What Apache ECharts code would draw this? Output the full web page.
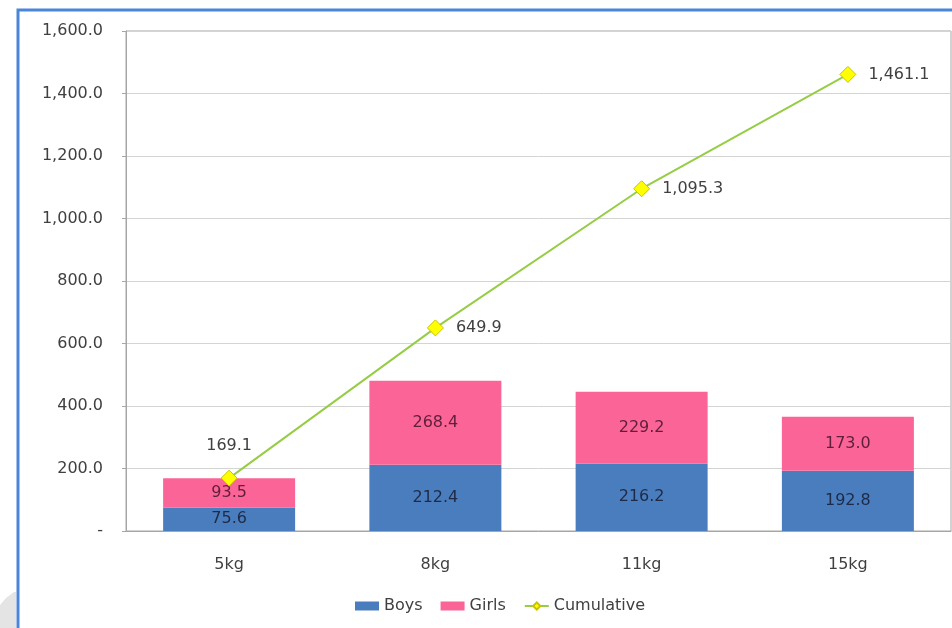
<!DOCTYPE html>
<html>
<head>
<meta charset="utf-8">
<script src="https://cdn.jsdelivr.net/npm/echarts@6/dist/echarts.min.js"></script>
<style>
html,body{margin:0;padding:0;background:#fff;}
#chart{width:952px;height:628px;}
</style>
</head>
<body>
<div id="chart"></div>
<script>
var categories = ['5kg', '8kg', '11kg', '15kg'];
var boys = [75.6, 212.4, 216.2, 192.8];
var girls = [93.5, 268.4, 229.2, 173.0];
var cumulative = [169.1, 649.9, 1095.3, 1461.1];
var yTicks = [0, 200, 400, 600, 800, 1000, 1200, 1400, 1600];

function fmt(v) {
  return Number(v).toLocaleString('en-US', {minimumFractionDigits: 1, maximumFractionDigits: 1});
}

var FONT = 'DejaVu Sans';
var chart = echarts.init(document.getElementById('chart'), null, {renderer: 'canvas'});

var cumData = cumulative.map(function (v, i) {
  return {
    value: v,
    label: {position: i === 0 ? 'top' : 'right', distance: i === 0 ? 16 : 12}
  };
});

chart.setOption({
  animation: false,
  backgroundColor: '#ffffff',
  textStyle: {fontFamily: FONT},
  grid: {left: 126, right: 1, top: 31, bottom: 97, show: true, borderColor: '#a6a6a6', borderWidth: 1, backgroundColor: 'transparent'},
  legend: {
    bottom: 9,
    left: 350,
    itemWidth: 24,
    itemHeight: 9,
    itemGap: 18,
    textStyle: {fontFamily: FONT, fontSize: 16, color: '#404040'},
    data: [
      {name: 'Boys', icon: 'rect'},
      {name: 'Girls', icon: 'rect'},
      {name: 'Cumulative'}
    ]
  },
  xAxis: {
    type: 'category',
    data: categories,
    axisLine: {lineStyle: {color: '#a6a6a6'}},
    axisTick: {show: false},
    axisLabel: {fontFamily: FONT, fontSize: 16, color: '#404040', margin: 26}
  },
  yAxis: {
    type: 'value',
    min: yTicks[0],
    max: yTicks[yTicks.length - 1],
    interval: 200,
    axisLine: {show: true, lineStyle: {color: '#a6a6a6'}},
    axisTick: {show: true, length: 4, lineStyle: {color: '#a6a6a6'}},
    splitLine: {lineStyle: {color: '#d4d4d4'}},
    axisLabel: {
      fontFamily: FONT, fontSize: 16, color: '#404040', margin: 23,
      formatter: function (v) { return v === 0 ? '-' : fmt(v); }
    }
  },
  graphic: [
    {type: 'rect', z: 100, silent: true, shape: {x: 18, y: 10, width: 1000, height: 700},
      style: {fill: 'none', stroke: '#4a86d8', lineWidth: 3}},
    {type: 'polygon', z: 90, silent: true,
      shape: {points: [[0, 628], [0, 605], [6, 598], [14, 592], [16, 592], [16, 628]]},
      style: {fill: '#e4e4e4'}}
  ],
  series: [
    {
      name: 'Boys', type: 'bar', stack: 'total', data: boys, barWidth: 132,
      itemStyle: {color: '#4a7dbd'},
      label: {show: true, position: 'inside', fontFamily: FONT, fontSize: 16, color: '#1e2b48', formatter: function (p) { return fmt(p.value); }}
    },
    {
      name: 'Girls', type: 'bar', stack: 'total', data: girls, barWidth: 132,
      itemStyle: {color: '#fb6496'},
      label: {show: true, position: 'inside', fontFamily: FONT, fontSize: 16, color: '#5e1f3a', formatter: function (p) { return fmt(p.value); }}
    },
    {
      name: 'Cumulative', type: 'line', data: cumData, z: 5,
      symbol: 'diamond', symbolSize: 16,
      lineStyle: {color: '#96cd45', width: 2},
      itemStyle: {color: '#ffff00', borderColor: '#c9c200', borderWidth: 1},
      label: {show: true, fontFamily: FONT, fontSize: 16, color: '#404040', formatter: function (p) { return fmt(p.value); }}
    }
  ]
});
</script>
</body>
</html>
